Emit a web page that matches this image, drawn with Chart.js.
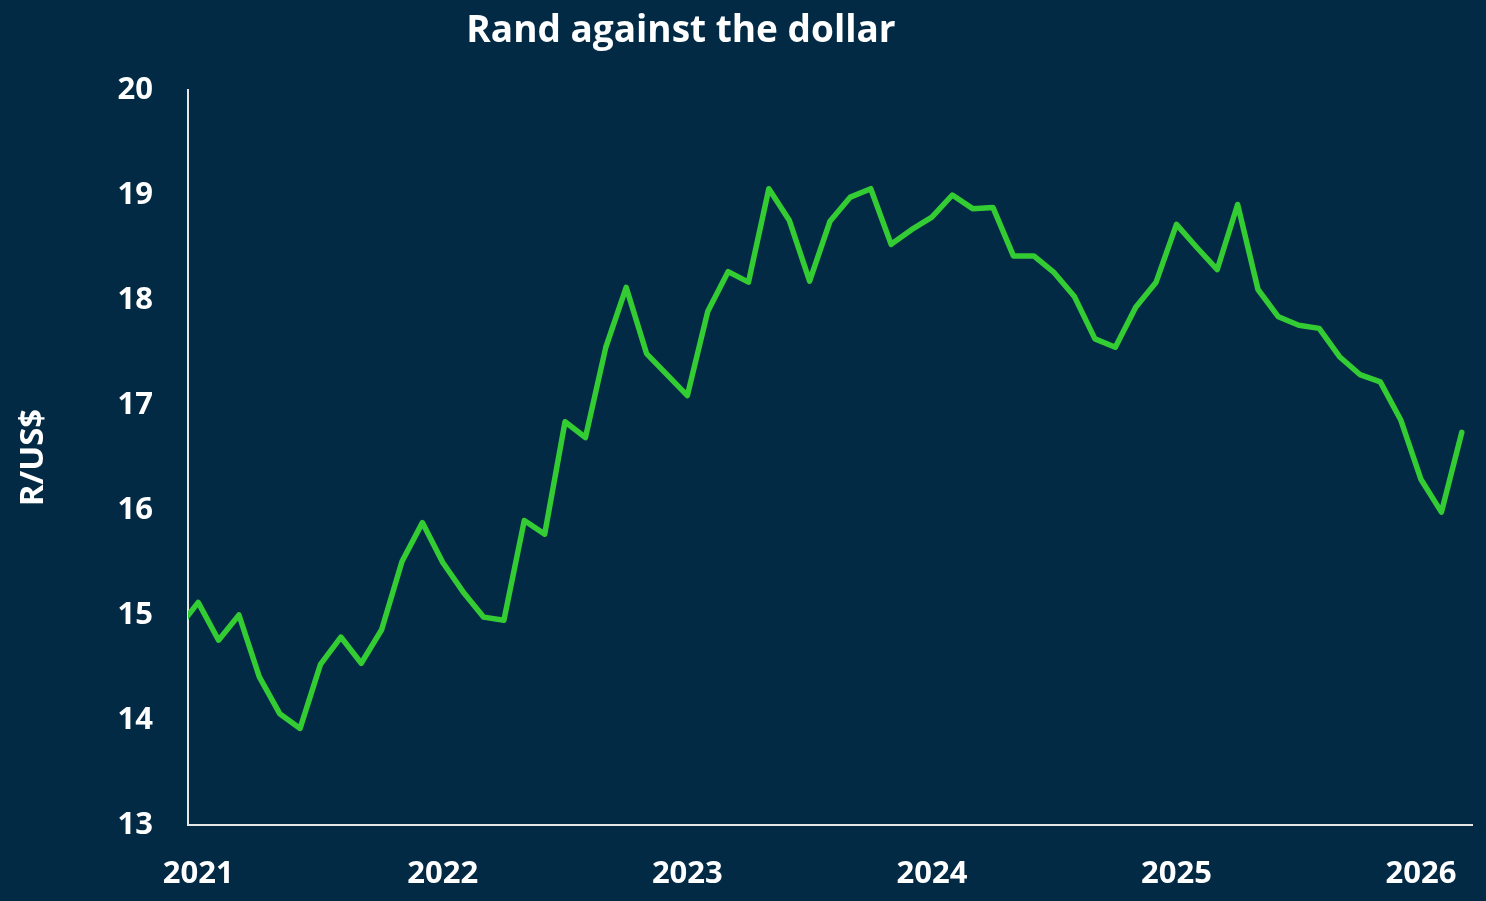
<!DOCTYPE html>
<html>
<head>
<meta charset="utf-8">
<script src="https://cdn.jsdelivr.net/npm/chart.js@4/dist/chart.umd.min.js"></script>
<style>
  html, body { margin: 0; padding: 0; background: #022a45; }
  .chart-wrap { width: 1486px; height: 901px; position: relative; }
</style>
</head>
<body>
<div class="chart-wrap"><canvas id="randChart"></canvas></div>
<script>
// monthly rand per US dollar, Dec 2020 .. Mar 2026
const months = [
  'Dec-20',
  'Jan-21', 'Feb-21', 'Mar-21', 'Apr-21', 'May-21', 'Jun-21', 'Jul-21', 'Aug-21', 'Sep-21', 'Oct-21', 'Nov-21', 'Dec-21',
  'Jan-22', 'Feb-22', 'Mar-22', 'Apr-22', 'May-22', 'Jun-22', 'Jul-22', 'Aug-22', 'Sep-22', 'Oct-22', 'Nov-22', 'Dec-22',
  'Jan-23', 'Feb-23', 'Mar-23', 'Apr-23', 'May-23', 'Jun-23', 'Jul-23', 'Aug-23', 'Sep-23', 'Oct-23', 'Nov-23', 'Dec-23',
  'Jan-24', 'Feb-24', 'Mar-24', 'Apr-24', 'May-24', 'Jun-24', 'Jul-24', 'Aug-24', 'Sep-24', 'Oct-24', 'Nov-24', 'Dec-24',
  'Jan-25', 'Feb-25', 'Mar-25', 'Apr-25', 'May-25', 'Jun-25', 'Jul-25', 'Aug-25', 'Sep-25', 'Oct-25', 'Nov-25', 'Dec-25',
  'Jan-26', 'Feb-26', 'Mar-26'
];
const randPerDollar = [
  14.87,
  15.12, 14.76, 15.00, 14.41, 14.06, 13.92, 14.53, 14.79, 14.54, 14.86, 15.51, 15.88,
  15.50, 15.22, 14.98, 14.95, 15.90, 15.77, 16.84, 16.69, 17.55, 18.12, 17.49, 17.29,
  17.09, 17.89, 18.27, 18.17, 19.06, 18.76, 18.18, 18.75, 18.98, 19.06, 18.53, 18.67,
  18.79, 19.00, 18.87, 18.88, 18.42, 18.42, 18.26, 18.03, 17.63, 17.55, 17.93, 18.17,
  18.72, 18.50, 18.29, 18.91, 18.10, 17.84, 17.76, 17.73, 17.46, 17.29, 17.22, 16.86,
  16.29, 15.98, 16.74
];
const yearLabels = ['2021', '2022', '2023', '2024', '2025', '2026'];
const yearTickPos = [0, 12, 24, 36, 48, 60]; // month offset from Jan-21
const yTicks = [13, 14, 15, 16, 17, 18, 19, 20];

const FONT = '"Open Sans", "Noto Sans", sans-serif';
const axisColor = '#e6e6e6';

// points: x = months since Jan-21 (Dec-20 sits at -1)
const points = randPerDollar.map((v, i) => ({ x: i - 1, y: v, label: months[i] }));

const titlePlugin = {
  id: 'topTitle',
  afterDraw(chart) {
    const c = chart.ctx;
    c.save();
    c.fillStyle = '#ffffff';
    c.font = 'bold 37px ' + FONT;
    c.textAlign = 'center';
    c.textBaseline = 'middle';
    c.fillText('Rand against the dollar', 681, 31);
    c.restore();
  },
};

const ctx = document.getElementById('randChart').getContext('2d');

new Chart(ctx, {
  type: 'line',
  data: {
    datasets: [
      {
        label: 'R/US$',
        data: points,
        borderColor: '#33cc33',
        backgroundColor: '#33cc33',
        borderWidth: 5.5,
        pointRadius: 0,
        tension: 0,
        borderCapStyle: 'round',
        borderJoinStyle: 'round',
        clip: 0,
      },
    ],
  },
  options: {
    responsive: true,
    maintainAspectRatio: false,
    animation: false,
    layout: {
      padding: { top: 90, right: 14, left: 0, bottom: 0 },
    },
    plugins: {
      legend: { display: false },
      tooltip: { enabled: false },
    },
    scales: {
      x: {
        type: 'linear',
        min: -0.5,
        max: 62.5,
        grid: { display: false, drawTicks: false },
        border: { display: true, color: axisColor, width: 2 },
        afterBuildTicks: scale => {
          scale.ticks = yearTickPos.map(v => ({ value: v }));
        },
        afterFit: scale => {
          scale.height = 76;
          scale.paddingRight = 0;
          scale.paddingLeft = 0;
        },
        ticks: {
          color: '#ffffff',
          font: { family: FONT, size: 31, weight: 'bold' },
          padding: 31,
          maxRotation: 0,
          autoSkip: false,
          callback: v => yearLabels[yearTickPos.indexOf(v)],
        },
      },
      y: {
        min: 13,
        max: 20,
        grid: { display: false, drawTicks: false },
        border: { display: true, color: axisColor, width: 2 },
        afterBuildTicks: scale => {
          scale.ticks = yTicks.map(v => ({ value: v }));
        },
        afterFit: scale => {
          scale.width = 188;
        },
        ticks: {
          color: '#ffffff',
          font: { family: FONT, size: 31, weight: 'bold' },
          padding: 35,
        },
        title: {
          display: true,
          text: 'R/US$',
          color: '#ffffff',
          font: { family: FONT, size: 33, weight: 'bold' },
          padding: { top: 14, bottom: 0 },
        },
      },
    },
  },
  plugins: [titlePlugin],
});
</script>
</body>
</html>
